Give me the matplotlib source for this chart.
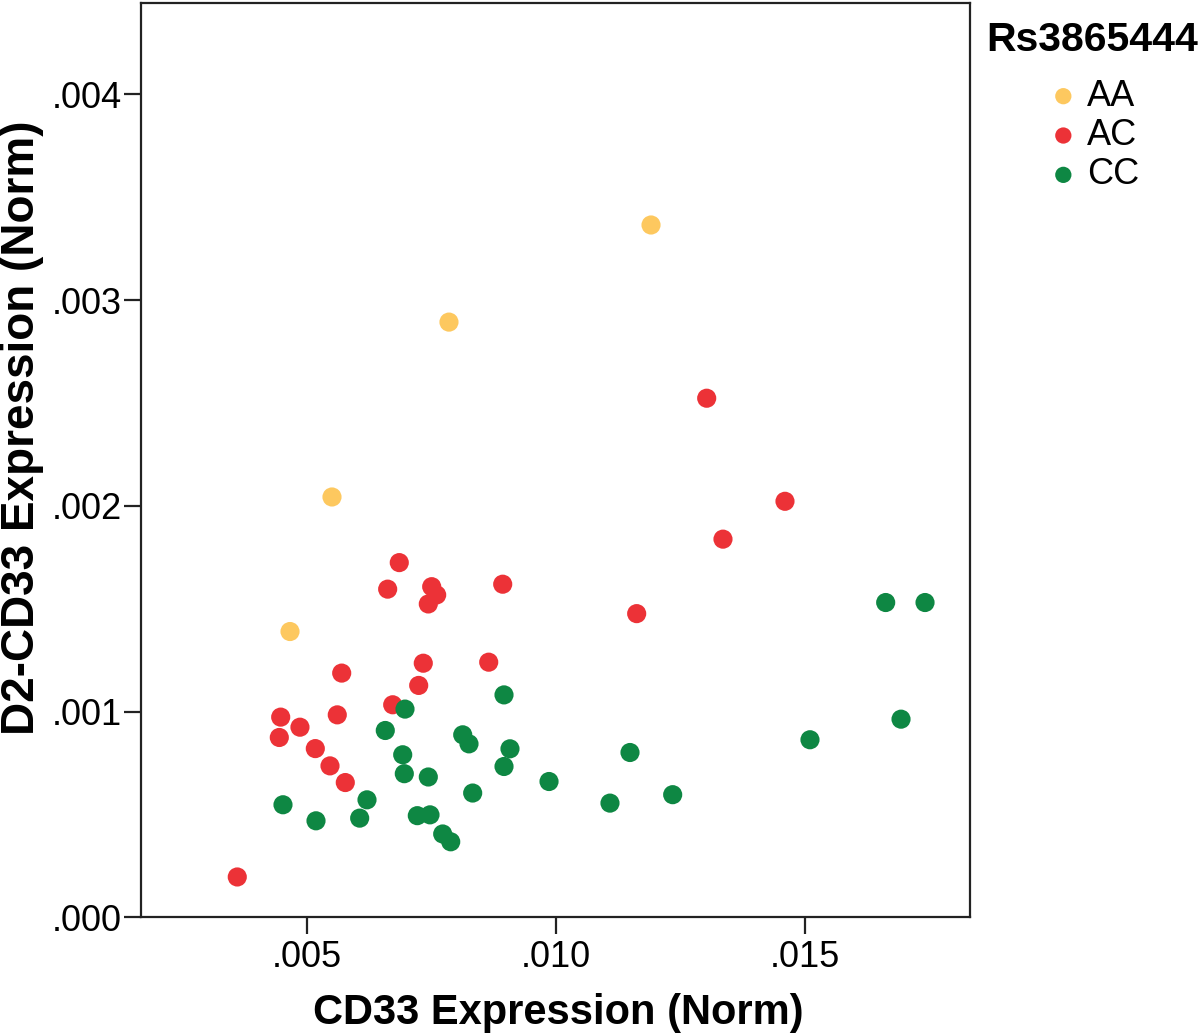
import matplotlib
matplotlib.use("Agg")
import matplotlib.pyplot as plt
import numpy as np

plt.rcParams['font.family'] = ['Liberation Sans', 'DejaVu Sans']

# Data (values in raw units)
aa_x = [0.004659, 0.005502, 0.007851, 0.011908]
aa_y = [0.001389, 0.002043, 0.002893, 0.003365]

ac_x = [0.006853, 0.006620, 0.007504, 0.007604, 0.007436, 0.008930, 0.005697,
        0.007335, 0.008649, 0.007243, 0.006721, 0.004472, 0.005608, 0.004859,
        0.004444, 0.005167, 0.005462, 0.005769, 0.003600, 0.013026, 0.014598,
        0.013353, 0.011620]
ac_y = [0.001724, 0.001595, 0.001607, 0.001567, 0.001523, 0.001619, 0.001187,
        0.001235, 0.001240, 0.001127, 0.001033, 0.000973, 0.000984, 0.000924,
        0.000874, 0.000820, 0.000736, 0.000655, 0.000196, 0.002523, 0.002022,
        0.001838, 0.001476]

cc_x = [0.006968, 0.008956, 0.006572, 0.008127, 0.008253, 0.009076, 0.006922,
        0.008956, 0.006954, 0.007436, 0.009860, 0.006205, 0.008327, 0.004518,
        0.006058, 0.005181, 0.007215, 0.007470, 0.007725, 0.007886, 0.016620,
        0.017410, 0.016928, 0.015100, 0.011486, 0.012343, 0.011084]
cc_y = [0.001012, 0.001081, 0.000908, 0.000887, 0.000843, 0.000819, 0.000790,
        0.000733, 0.000698, 0.000682, 0.000660, 0.000571, 0.000604, 0.000547,
        0.000482, 0.000469, 0.000494, 0.000498, 0.000405, 0.000367, 0.001530,
        0.001530, 0.000963, 0.000863, 0.000801, 0.000596, 0.000555]

groups = ["AA", "AC", "CC"]
colors = ["#FDC85F", "#EC3237", "#0E8743"]

x_ticks = [0.005, 0.010, 0.015]
x_tick_labels = [".005", ".010", ".015"]
y_ticks = [0.000, 0.001, 0.002, 0.003, 0.004]
y_tick_labels = [".000", ".001", ".002", ".003", ".004"]

fig = plt.figure(figsize=(12, 10.36), dpi=100)
L, R, T, B = 141.3, 970, 3, 917.3
W, H = 1200, 1036
ax = fig.add_axes([L / W, 1 - B / H, (R - L) / W, (B - T) / H])

for gx, gy, lab, col in zip([aa_x, ac_x, cc_x], [aa_y, ac_y, cc_y], groups, colors):
    ax.scatter(gx, gy, s=190, color=col, edgecolors='none', label=lab, zorder=3)

ax.set_xlim(0.001673, 0.018313)
ax.set_ylim(0.0, 0.004444)
ax.set_xticks(x_ticks)
ax.set_xticklabels(x_tick_labels)
ax.set_yticks(y_ticks)
ax.set_yticklabels(y_tick_labels)

for sp in ax.spines.values():
    sp.set_linewidth(1.6)
    sp.set_color('#222222')
ax.tick_params(axis='both', direction='out', length=12, width=1.6,
               labelsize=26, color='#222222')
ax.tick_params(axis='x', pad=4)
ax.tick_params(axis='y', pad=2)

ax.set_xlabel("CD33 Expression (Norm)", fontsize=30, fontweight='bold')
ax.set_ylabel("D2-CD33 Expression (Norm)", fontsize=33, fontweight='bold')
ax.xaxis.set_label_coords((558 - L) / (R - L), 1 - (1013 - T) / (B - T))
ax.yaxis.set_label_coords((22 - L) / (R - L), 1 - (428 - T) / (B - T))
ax.xaxis.label.set_va('center')
ax.yaxis.label.set_va('center')

leg = ax.legend(loc='upper left', bbox_to_anchor=(979 / W, 1 - 14 / H),
                bbox_transform=fig.transFigure, frameon=False,
                title="Rs3865444", fontsize=26, markerscale=0.85,
                handletextpad=0.15, labelspacing=0.12, borderpad=0.2,
                borderaxespad=0, handlelength=1.0)
leg.get_title().set_fontweight('bold')
leg.get_title().set_fontsize(29.5)
leg._legend_box.sep = 14

fig.savefig("out.png", dpi=100)
